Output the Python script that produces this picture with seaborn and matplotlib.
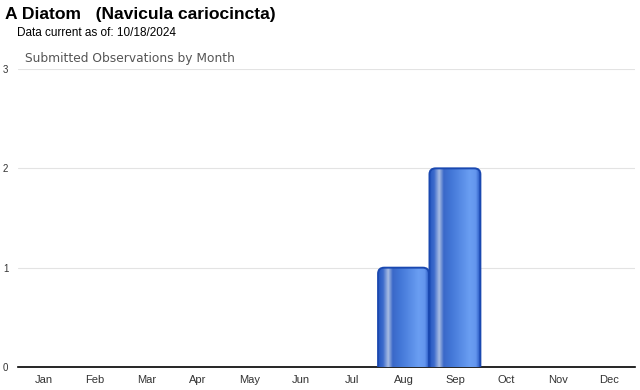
import matplotlib
matplotlib.use("Agg")
import matplotlib.pyplot as plt
import seaborn as sns
import numpy as np
import pandas as pd
from matplotlib.patches import FancyBboxPatch
from matplotlib.colors import LinearSegmentedColormap

months = ["Jan", "Feb", "Mar", "Apr", "May", "Jun",
          "Jul", "Aug", "Sep", "Oct", "Nov", "Dec"]
observations = [0, 0, 0, 0, 0, 0, 0, 1, 2, 0, 0, 0]
y_ticks = [0, 1, 2, 3]

title = "A Diatom   (Navicula cariocincta)"
subtitle = "Data current as of: 10/18/2024"
chart_title = "Submitted Observations by Month"

sns.set_style("white")
plt.rcParams["font.family"] = ["Liberation Sans", "DejaVu Sans"]
plt.rcParams["text.color"] = "black"

df = pd.DataFrame({"month": months, "count": observations})

fig = plt.figure(figsize=(6.4, 3.9), dpi=100)
ax = fig.add_axes([0.028, 0.059, 0.964, 0.764])

sns.barplot(data=df, x="month", y="count", ax=ax, width=0.99,
            color="#3366cc", zorder=2)

# cylinder-like gradient for the bars
grad = LinearSegmentedColormap.from_list("bar", [
    (0.00, "#2456c0"),
    (0.10, "#3d6bcc"),
    (0.20, "#a9bde3"),
    (0.29, "#3a68c8"),
    (0.45, "#4478d8"),
    (0.80, "#6a9ef2"),
    (0.92, "#6496ee"),
    (1.00, "#2a5ac4"),
])
gradient = np.linspace(0, 1, 256).reshape(1, -1)

for p in list(ax.patches):
    h = p.get_height()
    x0 = p.get_x()
    w = p.get_width()
    p.remove()
    if h <= 0:
        continue
    box = FancyBboxPatch((x0, -0.1), w, h + 0.1,
                         boxstyle="round,pad=0,rounding_size=0.12",
                         mutation_aspect=0.5,
                         facecolor="none", edgecolor="#1a48b0",
                         linewidth=1.4, zorder=4)
    ax.add_patch(box)
    im = ax.imshow(gradient, cmap=grad, aspect="auto",
                   extent=(x0, x0 + w, -0.1, h), zorder=3)
    im.set_clip_path(box)

ax.set_xlim(-0.5, 11.5)
ax.set_ylim(0, 3)
ax.set_yticks(y_ticks)
ax.yaxis.grid(True, color="#e3e3e3", linewidth=0.8, zorder=0)
ax.set_axisbelow(True)
ax.set_xlabel("")
ax.set_ylabel("")
for s in ["top", "right", "left"]:
    ax.spines[s].set_visible(False)
ax.spines["bottom"].set_color("black")
ax.spines["bottom"].set_linewidth(1.2)
ax.tick_params(axis="y", length=0, labelsize=7, pad=7, labelcolor="#333333")
ax.tick_params(axis="x", length=3, width=0.6, color="#bbbbbb",
               labelsize=8, pad=3, labelcolor="#333333")

fig.text(0.008, 0.962, title, fontsize=12.6, fontweight="bold",
         ha="left", va="center")
fig.text(0.027, 0.915, subtitle, fontsize=8.5, ha="left", va="center")
fig.text(0.039, 0.851, chart_title, fontsize=8.8, color="#555555",
         ha="left", va="center", family=["DejaVu Sans"])

fig.savefig("out.png", dpi=100)
